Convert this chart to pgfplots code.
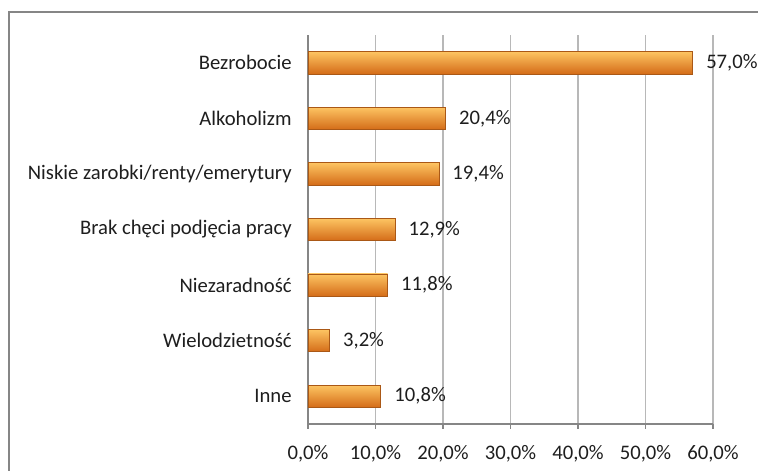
\documentclass[border=0pt]{standalone}
\usepackage{fontspec}
\setmainfont{Carlito}
\usepackage{pgfplots}
\pgfplotsset{compat=1.18}
\definecolor{barhi}{RGB}{253,196,98}
\definecolor{barmid}{RGB}{246,148,46}
\definecolor{barlo}{RGB}{212,108,24}
\definecolor{baredge}{RGB}{170,88,22}
\definecolor{gridc}{RGB}{184,184,184}
\definecolor{axc}{RGB}{134,134,134}
\definecolor{txt}{RGB}{30,30,30}
\pgfplotsset{obar/.style={draw=baredge, line width=0.6pt, bar shift=0pt,
  top color=barhi, middle color=barmid, bottom color=barlo}}
\begin{document}
\begin{tikzpicture}
\useasboundingbox (0,0) rectangle (568.5pt,353.25pt);
\begin{axis}[
  at={(231pt,35.25pt)}, anchor=south west,
  scale only axis, width=303.75pt, height=291.75pt,
  xbar, bar width=0.4,
  xmin=0, xmax=60, ymin=-0.5, ymax=6.5,
  axis x line*=bottom, axis y line*=left,
  axis line style={axc, line width=0.9pt},
  xtick={0,10,...,60},
  xticklabel={\pgfmathprintnumber[fixed,fixed zerofill,precision=1,use comma]{\tick}\%},
  ytick={0,...,6},
  yticklabels={Inne, Wielodzietność, Niezaradność, Brak chęci podjęcia pracy,
    Niskie zarobki/renty/emerytury, Alkoholizm, Bezrobocie},
  minor ytick={-0.5,0.5,...,6.5},
  ytick style={draw=none},
  minor tick style={axc, line width=0.9pt},
  xtick style={axc, line width=0.9pt},
  tick align=outside, major tick length=3.75pt, minor tick length=3.75pt,
  xmajorgrids, grid style={gridc, line width=0.9pt},
  ticklabel style={font=\fontsize{15.5}{17}\selectfont, text=txt},
  yticklabel style={xshift=-5pt},
  xticklabel style={yshift=-9pt},
  /pgf/number format/assume math mode=true,
  nodes near coords={\pgfmathprintnumber[fixed,fixed zerofill,precision=1,use comma]{\pgfplotspointmeta}\%},
  nodes near coords style={font=\fontsize{15.5}{17}\selectfont, text=txt, anchor=west, xshift=6.5pt},
  point meta=x,
]
\addplot[obar] coordinates {(10.8,0)};
\addplot[obar] coordinates {(3.2,1)};
\addplot[obar] coordinates {(11.8,2)};
\addplot[obar] coordinates {(12.9,3)};
\addplot[obar] coordinates {(19.4,4)};
\addplot[obar] coordinates {(20.4,5)};
\addplot[obar] coordinates {(57.0,6)};
\end{axis}
\draw[axc, line width=1.3pt] (6.75pt,0) -- (6.75pt,344.25pt) -- (568.5pt,344.25pt);
\end{tikzpicture}
\end{document}
